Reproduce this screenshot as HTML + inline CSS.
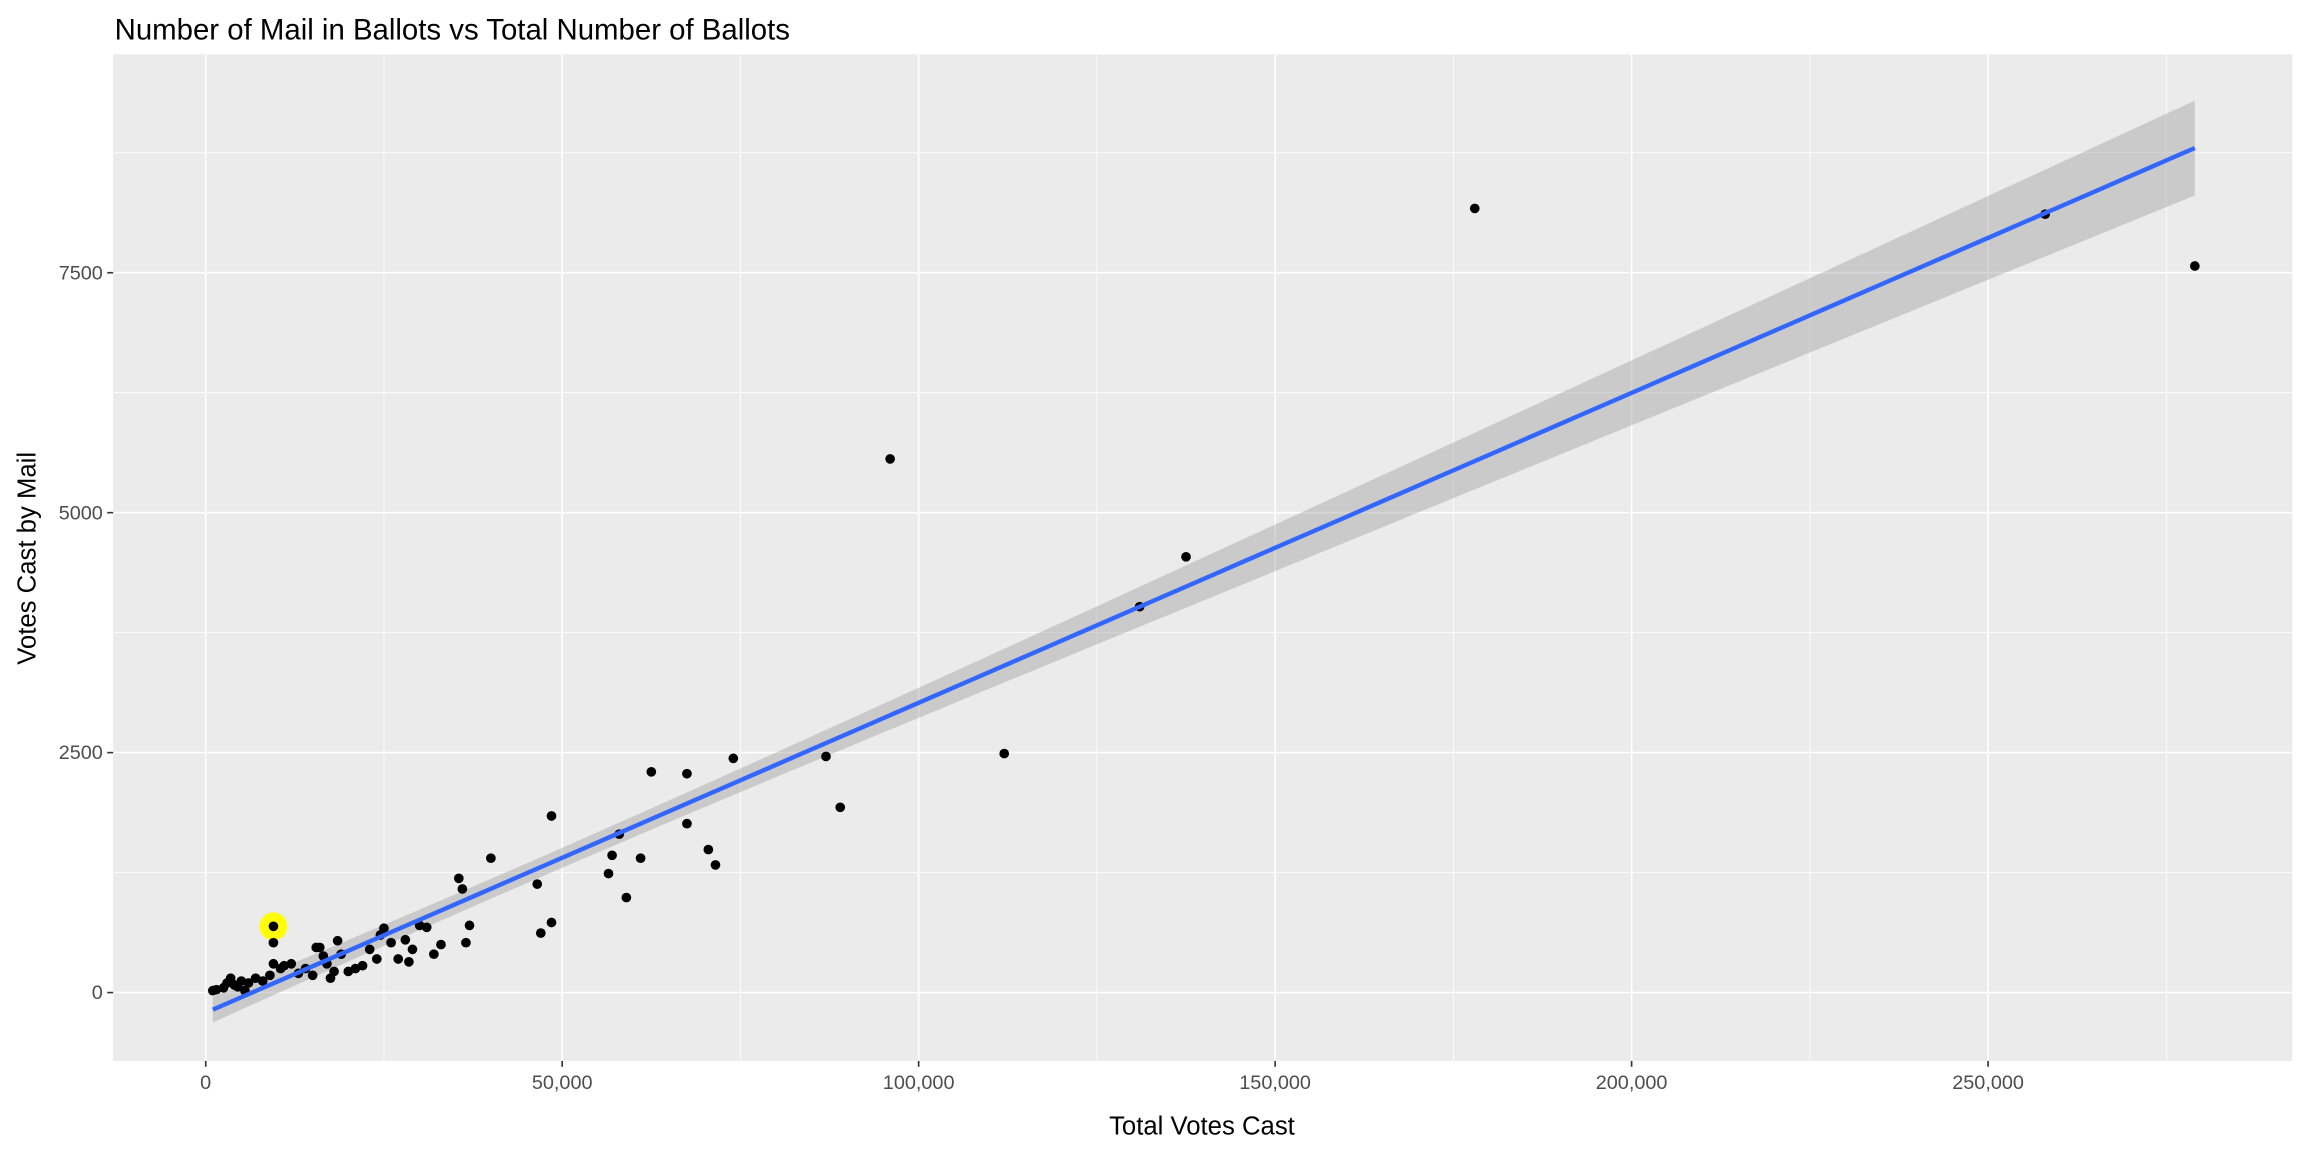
<!DOCTYPE html>
<html><head><meta charset="utf-8"><style>
html,body{margin:0;padding:0;background:#fff;}
svg{display:block;font-family:"Liberation Sans",Arial,sans-serif;}
</style></head><body>
<svg id="chart" width="2304" height="1152" viewBox="0 0 1568 784" xmlns="http://www.w3.org/2000/svg">
<rect x="0" y="0" width="1568" height="784" fill="#fff"/>
<rect x="77" y="37" width="1483" height="685" fill="#ebebeb"/>
<g id="grid"></g>
<g id="band"></g>
<g id="pts"></g>
<g id="fit"></g>
<g id="axes"></g>
<text x="78" y="27" font-size="20" fill="#000">Number of Mail in Ballots vs Total Number of Ballots</text>
<text x="818" y="772" font-size="17.5" text-anchor="middle" fill="#000">Total Votes Cast</text>
<text transform="translate(24,380) rotate(-90)" font-size="17.5" text-anchor="middle" fill="#000">Votes Cast by Mail</text>
</svg>
<script>
const totalVotes = [1000,1500,2500,3000,3500,4000,4500,5000,5500,6000,7000,8000,9000,9500,9500,9500,10500,11000,12000,13000,14000,15000,15500,16000,16500,17000,17500,18000,18500,19000,20000,21000,22000,23000,24000,24500,25000,26000,27000,28000,28500,29000,30000,31000,32000,33000,35500,36000,36500,37000,40000,46500,47000,48500,48500,56500,57000,58000,59000,61000,62500,67500,67500,70500,71500,74000,87000,89000,96000,112000,131000,137500,178000,258000,279000];
const mailVotes = [20,30,50,100,150,80,60,120,20,100,150,120,180,300,520,690,250,280,300,200,250,180,470,470,380,300,150,220,540,400,220,250,280,450,350,600,670,520,350,550,320,450,700,680,400,500,1190,1080,520,700,1400,1130,620,1840,730,1240,1430,1650,990,1400,2300,2280,1760,1490,1330,2440,2460,1930,5560,2490,4020,4540,8170,8110,7570];
const highlightPoint = [9500,690];
const xTicks = [0,50000,100000,150000,200000,250000];
const xTickLabels = ["0","50,000","100,000","150,000","200,000","250,000"];
const yTicks = [0,2500,5000,7500];
const yTickLabels = ["0","2500","5000","7500"];

const NS="http://www.w3.org/2000/svg";
const X0=77,X1=1560,Y0=37,Y1=722;
function sx(v){return 140+v*(242.6/50000);}
function sy(v){return 675.5-v*(163.3/2500);}
function mk(tag,attrs,parent){const e=document.createElementNS(NS,tag);for(const k in attrs)e.setAttribute(k,attrs[k]);parent.appendChild(e);return e;}
const grid=document.getElementById('grid'),axes=document.getElementById('axes');
for(let v=-25000;v<=300000;v+=50000){const x=sx(v);if(x>X0&&x<X1){const l=mk('line',{x1:x,x2:x,y1:Y0,y2:Y1,stroke:'#fff','stroke-width':0.55},grid);}}
for(let v=-1250;v<=10000;v+=2500){const y=sy(v);if(y>Y0&&y<Y1){const l=mk('line',{x1:X0,x2:X1,y1:y,y2:y,stroke:'#fff','stroke-width':0.55},grid);}}
xTicks.forEach((v,i)=>{const x=sx(v);
 const l=mk('line',{x1:x,x2:x,y1:Y0,y2:Y1,stroke:'#fff','stroke-width':1.1},grid);
 const t=mk('line',{x1:x,x2:x,y1:Y1,y2:Y1+4,stroke:'#333','stroke-width':1.1},axes);
 const tx=mk('text',{x:x,y:Y1+19,'font-size':13.5,'text-anchor':'middle',fill:'#4d4d4d'},axes);tx.textContent=xTickLabels[i];});
yTicks.forEach((v,i)=>{const y=sy(v);
 const l=mk('line',{x1:X0,x2:X1,y1:y,y2:y,stroke:'#fff','stroke-width':1.1},grid);
 const t=mk('line',{x1:X0-4,x2:X0,y1:y,y2:y,stroke:'#333','stroke-width':1.1},axes);
 const tx=mk('text',{x:X0-7,y:y+4.5,'font-size':13.5,'text-anchor':'end',fill:'#4d4d4d'},axes);tx.textContent=yTickLabels[i];});
const n=totalVotes.length;let mx=0,my=0;for(let i=0;i<n;i++){mx+=totalVotes[i];my+=mailVotes[i];}mx/=n;my/=n;
let sxx=0,sxy=0;for(let i=0;i<n;i++){sxx+=(totalVotes[i]-mx)**2;sxy+=(totalVotes[i]-mx)*(mailVotes[i]-my);}
const b=sxy/sxx,a=my-b*mx;let sse=0;for(let i=0;i<n;i++){sse+=(mailVotes[i]-a-b*totalVotes[i])**2;}
const s=Math.sqrt(sse/(n-2)),tq=1.6;
const xmin=Math.min(...totalVotes),xmax=Math.max(...totalVotes);
let up=[],dn=[],ln=[];
for(let k=0;k<=80;k++){const xv=xmin+(xmax-xmin)*k/80;const yv=a+b*xv;const se=s*Math.sqrt(1/n+(xv-mx)**2/sxx);
 up.push(sx(xv)+','+sy(yv+tq*se));dn.unshift(sx(xv)+','+sy(yv-tq*se));ln.push(sx(xv)+','+sy(yv));}
const bp=mk('polygon',{points:up.concat(dn).join(' '),fill:'#999','fill-opacity':0.4},document.getElementById('band'));


const hl=mk('circle',{cx:sx(highlightPoint[0]),cy:sy(highlightPoint[1]),r:9.5,fill:'#ffff00'},document.getElementById('pts'));


for(let i=0;i<n;i++){const c=mk('circle',{cx:sx(totalVotes[i]),cy:sy(mailVotes[i]),r:3.3,fill:'#000'},document.getElementById('pts'));
 
 }
const pl=mk('polyline',{points:ln.join(' '),fill:'none',stroke:'#3366FF','stroke-width':3},document.getElementById('fit'));


</script>
</body></html>
